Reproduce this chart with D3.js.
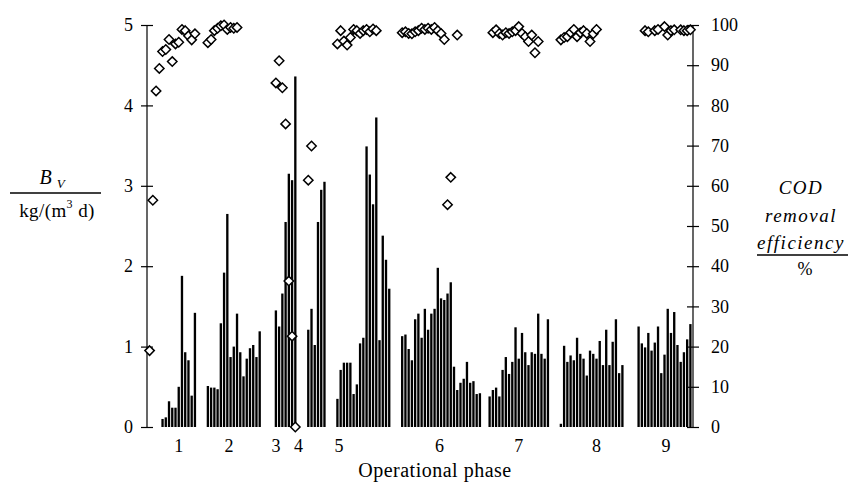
<!DOCTYPE html>
<html>
<head>
<meta charset="utf-8">
<script src="https://cdn.jsdelivr.net/npm/d3@7"></script>
<style>
  body { margin: 0; background: #fff; }
  svg text { font-family: "Liberation Serif", "Times New Roman", Times, "DejaVu Serif", serif; fill: #000; }
</style>
</head>
<body>
<div id="chart"></div>
<script>
// volumetric loading rate B_V per phase, one bar per day, phase start day below
const phaseStartDay = [4, 18, 39, 49, 58, 78, 105, 127, 151];
const bvPhase1 = [0.10, 0.12, 0.32, 0.24, 0.24, 0.50, 1.88, 0.93, 0.83, 0.39, 1.42];
const bvPhase2 = [0.51, 0.49, 0.49, 0.47, 1.29, 1.92, 2.65, 0.87, 1.00, 1.41, 0.93, 0.63, 0.85, 0.98, 1.02, 0.87, 1.19];
const bvPhase3 = [1.45, 1.25, 1.66, 2.55, 3.15, 3.07, 4.36];
const bvPhase4 = [1.21, 1.47, 1.02, 2.55, 2.95, 3.05];
const bvPhase5 = [0.35, 0.71, 0.80, 0.80, 0.80, 0.41, 0.53, 1.04, 1.11, 3.49, 3.14, 2.77, 3.85, 1.08, 2.38, 2.08, 1.72];
const bvPhase6 = [1.13, 1.15, 0.97, 0.83, 1.34, 1.41, 1.11, 1.47, 1.21, 1.41, 1.47, 1.98, 1.60, 1.58, 1.66, 1.80, 0.75, 0.46, 0.55, 0.60, 0.81, 0.55, 0.57, 0.41, 0.42];
const bvPhase7 = [0.38, 0.46, 0.49, 0.38, 0.71, 0.87, 0.66, 0.81, 1.24, 0.85, 1.17, 0.93, 0.77, 0.93, 0.91, 1.41, 0.91, 0.85, 1.34];
const bvPhase8 = [0.04, 1.01, 0.81, 0.89, 0.83, 1.11, 0.91, 0.85, 0.64, 0.95, 0.91, 0.85, 1.07, 0.77, 1.21, 0.77, 1.06, 1.34, 0.67, 0.77];
const bvPhase9 = [1.25, 1.04, 0.99, 1.17, 0.95, 1.05, 1.25, 0.67, 0.90, 1.47, 1.17, 1.43, 1.02, 0.81, 0.93, 1.09, 1.28];
const bvPhases = [bvPhase1, bvPhase2, bvPhase3, bvPhase4, bvPhase5, bvPhase6, bvPhase7, bvPhase8, bvPhase9];

// COD removal efficiency (%) by day
const codDays = [
  0, 1, 2, 3, 4, 5, 6, 7, 8, 9, 10, 11, 12, 13, 14,
  18, 19, 20, 21, 22, 23, 24, 25, 26, 27,
  39, 40, 41, 42, 43, 44, 45,
  49, 50,
  58, 59, 60, 61, 62, 63, 64, 65, 66, 67, 68, 69, 70,
  78, 79, 80, 81, 82, 83, 84, 85, 86, 87, 88, 89, 90, 91, 92, 93, 95,
  106, 107, 108, 109, 110, 111, 112, 113, 114, 115, 116, 117, 118, 119, 120,
  127, 128, 129, 130, 131, 132, 133, 134, 135, 136, 137, 138,
  153, 154, 156, 157, 159, 160, 161, 162, 164, 165, 166, 167
];
const codEff = [
  19, 56.4, 83.6, 89.2, 93.4, 93.9, 96.4, 90.9, 95.3, 95.7, 98.9, 98.6, 97.3, 96.3, 97.8,
  95.6, 96.4, 98.6, 99.2, 99.8, 100, 98.9, 99.4, 99.2, 99.4,
  85.6, 91.1, 84.4, 75.4, 36.3, 22.6, 0,
  61.4, 69.9,
  95.3, 98.6, 96.0, 95.0, 96.9, 98.9, 98.6, 97.9, 98.6, 98.9, 98.3, 99.0, 98.6,
  98.1, 98.3, 97.9, 97.8, 98.3, 98.6, 99.2, 98.9, 99.2, 98.9, 99.4, 98.6, 97.9, 96.4, 55.3, 62.1, 97.5,
  98.1, 98.8, 97.9, 97.5, 98.1, 97.9, 98.3, 98.6, 99.6, 97.9, 97.1, 95.9, 97.5, 93.1, 95.9,
  96.3, 96.9, 97.1, 98.1, 98.9, 97.1, 98.1, 98.6, 97.9, 95.9, 97.8, 98.9,
  98.6, 98.3, 98.6, 98.9, 99.6, 97.5, 98.6, 98.8, 98.8, 98.6, 98.6, 98.8
];

const phaseLabels = ["1", "2", "3", "4", "5", "6", "7", "8", "9"];
const phaseLabelDay = [9.5, 25, 39.5, 46.5, 59, 90, 114.5, 138.5, 160];
const bvTicks = [0, 1, 2, 3, 4, 5];
const codTicks = [0, 10, 20, 30, 40, 50, 60, 70, 80, 90, 100];

const serif = '"Liberation Serif", "Times New Roman", Times, "DejaVu Serif", serif';
const width = 848, height = 486;
const margin = { top: 25, right: 155, bottom: 59, left: 147 };
const innerW = width - margin.left - margin.right;
const innerH = height - margin.top - margin.bottom;

const bars = [];
bvPhases.forEach((vals, p) => {
  vals.forEach((v, i) => bars.push({ day: phaseStartDay[p] + i, bv: v }));
});
const points = codDays.map((d, i) => ({ day: d, eff: codEff[i] }));

const svg = d3.select("#chart").append("svg")
  .attr("width", width).attr("height", height)
  .attr("font-family", serif);
const g = svg.append("g").attr("transform", `translate(${margin.left},${margin.top})`);

const x = d3.scaleLinear().domain([-0.3, 168.3]).range([0, innerW]);
const yL = d3.scaleLinear().domain([0, 5]).range([innerH, 0]);
const yR = d3.scaleLinear().domain([0, 100]).range([innerH, 0]);
const step = x(1) - x(0);
const barW = step * 0.72;

// bars
g.append("g").selectAll("rect")
  .data(bars)
  .join("rect")
  .attr("x", d => x(d.day + 0.5) - barW / 2)
  .attr("y", d => yL(d.bv))
  .attr("width", barW)
  .attr("height", d => innerH - yL(d.bv))
  .attr("fill", "#000");

// axes
const axL = g.append("g")
  .call(d3.axisLeft(yL).tickValues(bvTicks).tickFormat(d3.format("d")).tickSize(6).tickPadding(8));
axL.selectAll(".tick line").attr("x2", -6).attr("x1", 6);
const axR = g.append("g").attr("transform", `translate(${innerW},0)`)
  .call(d3.axisRight(yR).tickValues(codTicks).tickSize(6).tickPadding(12));
axR.selectAll(".tick line").attr("x2", 6).attr("x1", -6);
[axL, axR].forEach(a => {
  a.attr("font-family", serif);
  a.select(".domain").attr("d", `M0,0V${innerH}`).attr("stroke-width", 1.2);
  a.selectAll(".tick line").attr("stroke-width", 1.2);
  a.selectAll("text").attr("font-size", 18);
});

// diamonds
const ds = 4.7;
g.append("g").selectAll("path")
  .data(points)
  .join("path")
  .attr("transform", d => `translate(${x(d.day + 0.5)},${yR(d.eff)})`)
  .attr("d", `M0,${-ds}L${ds},0L0,${ds}L${-ds},0Z`)
  .attr("fill", "#fff")
  .attr("stroke", "#000")
  .attr("stroke-width", 1.5);

// phase labels
g.append("g").selectAll("text")
  .data(phaseLabels)
  .join("text")
  .attr("x", (d, i) => x(phaseLabelDay[i]))
  .attr("y", innerH + 25)
  .attr("text-anchor", "middle")
  .attr("font-size", 18)
  .text(d => d);

svg.append("text")
  .attr("x", 435)
  .attr("y", 477)
  .attr("text-anchor", "middle")
  .attr("font-size", 20)
  .attr("letter-spacing", 0.5)
  .text("Operational phase");

// left title
const lt = svg.append("g");
const bv = lt.append("text").attr("x", 52).attr("y", 184).attr("text-anchor", "middle").attr("font-size", 20);
bv.append("tspan").attr("font-style", "italic").text("B");
bv.append("tspan").attr("font-style", "italic").attr("font-size", 13).attr("dx", 5).attr("dy", 4).text("V");
lt.append("line").attr("x1", 10).attr("x2", 101).attr("y1", 193).attr("y2", 193)
  .attr("stroke", "#000").attr("stroke-width", 1.3);
const kg = lt.append("text").attr("x", 57).attr("y", 217).attr("text-anchor", "middle")
  .attr("font-size", 19).attr("letter-spacing", 0.4);
kg.append("tspan").text("kg/(m");
kg.append("tspan").attr("font-size", 12).attr("dy", -9).text("3");
kg.append("tspan").attr("dy", 9).text(" d)");

// right title
const rt = svg.append("g");
rt.append("text").attr("x", 801).attr("y", 194).attr("text-anchor", "middle")
  .attr("font-style", "italic").attr("font-size", 19).attr("letter-spacing", 1.5).text("COD");
rt.append("text").attr("x", 801).attr("y", 222).attr("text-anchor", "middle")
  .attr("font-style", "italic").attr("font-size", 19).attr("letter-spacing", 1.5).text("removal");
rt.append("text").attr("x", 801).attr("y", 249).attr("text-anchor", "middle")
  .attr("font-style", "italic").attr("font-size", 19).attr("letter-spacing", 1.5).text("efficiency");
rt.append("line").attr("x1", 757).attr("x2", 848).attr("y1", 255).attr("y2", 255)
  .attr("stroke", "#000").attr("stroke-width", 1.3);
rt.append("text").attr("x", 805).attr("y", 275).attr("text-anchor", "middle")
  .attr("font-size", 18).text("%");
</script>
</body>
</html>
